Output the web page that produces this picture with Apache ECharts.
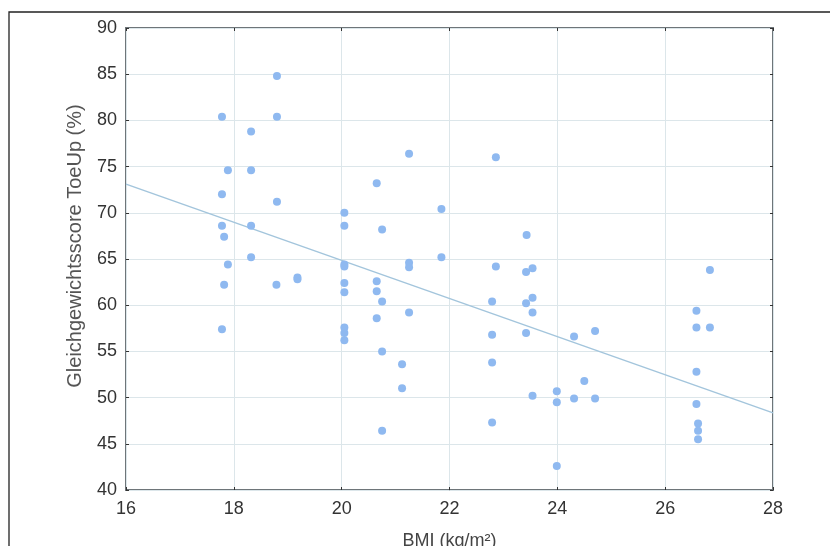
<!DOCTYPE html>
<html>
<head>
<meta charset="utf-8">
<script src="https://cdn.jsdelivr.net/npm/echarts@6/dist/echarts.min.js"></script>
<style>html,body{margin:0;padding:0;background:#fff;}#c{width:830px;height:546px;}</style>
</head>
<body>
<div id="c"></div>
<script>
// BMI (x) values of each subject
var bmiValues = [
  17.78, 17.89, 17.78, 17.78, 17.82, 17.89, 17.82, 17.78,
  18.32, 18.32, 18.32, 18.32,
  18.80, 18.80, 18.80, 18.79,
  19.18, 19.18,
  20.05, 20.05, 20.05, 20.05, 20.05, 20.05, 20.05, 20.05, 20.05,
  20.65, 20.65, 20.65, 20.65,
  20.75, 20.75, 20.75, 20.75,
  21.12, 21.12,
  21.25, 21.25, 21.25, 21.25,
  21.85, 21.85,
  22.86, 22.86,
  22.79, 22.79, 22.79, 22.79,
  23.43, 23.42, 23.54, 23.54, 23.42, 23.54, 23.42, 23.54,
  23.99, 23.99, 23.99,
  24.31, 24.31,
  24.50,
  24.70, 24.70,
  26.58, 26.58, 26.58, 26.58, 26.61, 26.61, 26.61,
  26.83, 26.83
];
// Gleichgewichtsscore ToeUp (%) of each subject
var scoreValues = [
  80.4, 74.6, 72.0, 68.6, 67.4, 64.4, 62.2, 57.4,
  78.8, 74.6, 68.6, 65.2,
  84.8, 80.4, 71.2, 62.2,
  63.0, 62.8,
  70.0, 68.6, 64.4, 64.2, 62.4, 61.4, 57.6, 57.0, 56.2,
  73.2, 62.6, 61.5, 58.6,
  68.2, 60.4, 55.0, 46.4,
  53.6, 51.0,
  76.4, 64.6, 64.1, 59.2,
  70.4, 65.2,
  76.0, 64.2,
  60.4, 56.8, 53.8, 47.3,
  67.6, 63.6, 64.0, 60.8, 60.2, 59.2, 57.0, 50.2,
  50.7, 49.5, 42.6,
  56.6, 49.9,
  51.8,
  57.2, 49.9,
  59.4, 57.6, 52.8, 49.3, 47.2, 46.4, 45.5,
  63.8, 57.6
];
// regression line end points
var trendX = [16, 28];
var trendY = [73.1, 48.35];
// axis ticks
var xTicks = [16, 18, 20, 22, 24, 26, 28];
var yTicks = [40, 45, 50, 55, 60, 65, 70, 75, 80, 85, 90];

var points = bmiValues.map(function (b, i) { return [b, scoreValues[i]]; });
var trend = trendX.map(function (x, i) { return [x, trendY[i]]; });

var FONT = 'Liberation Sans, Arial, sans-serif';
var chart = echarts.init(document.getElementById('c'), null, { renderer: 'canvas' });

function xAxisCfg(pos, showLabels) {
  return {
    type: 'value', position: pos,
    min: xTicks[0], max: xTicks[xTicks.length - 1], interval: xTicks[1] - xTicks[0],
    axisLine: { show: false },
    axisTick: { show: true, inside: true, length: 3, lineStyle: { color: '#333', width: 1 } },
    axisLabel: { show: showLabels, color: '#333', fontSize: 18, fontFamily: FONT, margin: 10 },
    splitLine: { show: showLabels, lineStyle: { color: '#dce6ea', width: 1 } },
    name: showLabels ? 'BMI (kg/m²)' : '',
    nameLocation: 'middle', nameGap: 42,
    nameTextStyle: { color: '#444', fontSize: 18, fontFamily: FONT }
  };
}
function yAxisCfg(pos, showLabels) {
  return {
    type: 'value', position: pos,
    min: yTicks[0], max: yTicks[yTicks.length - 1], interval: yTicks[1] - yTicks[0],
    axisLine: { show: false },
    axisTick: { show: true, inside: true, length: 3, lineStyle: { color: '#333', width: 1 } },
    axisLabel: { show: showLabels, color: '#333', fontSize: 18, fontFamily: FONT, margin: 9 },
    splitLine: { show: showLabels, lineStyle: { color: '#dce6ea', width: 1 } }
  };
}

chart.setOption({
  animation: false,
  backgroundColor: '#fff',
  grid: { left: 126, right: 57, top: 28, bottom: 56, show: true, borderColor: '#6e7579', borderWidth: 2,
          backgroundColor: 'transparent', containLabel: false, outerBoundsMode: 'none' },
  xAxis: [xAxisCfg('bottom', true), xAxisCfg('top', false)],
  yAxis: [yAxisCfg('left', true), yAxisCfg('right', false)],
  graphic: [
    { type: 'rect', z: -10, silent: true, shape: { x: 9, y: 12, width: 900, height: 900 },
      style: { fill: null, stroke: '#222', lineWidth: 1.3 } },
    { type: 'text', x: 75, y: 246, rotation: Math.PI / 2, silent: true,
      style: { text: 'Gleichgewichtsscore ToeUp (%)', fill: '#555', font: '20px ' + FONT,
               textAlign: 'center', textVerticalAlign: 'middle' } }
  ],
  series: [
    { type: 'line', data: trend, xAxisIndex: 0, yAxisIndex: 0, showSymbol: false, symbol: 'none',
      lineStyle: { color: '#a3c5dc', width: 1.5 }, z: 2 },
    { type: 'scatter', data: points, xAxisIndex: 0, yAxisIndex: 0, symbolSize: 8,
      itemStyle: { color: '#8fb9f0', opacity: 1 }, z: 3 }
  ]
});
</script>
</body>
</html>
